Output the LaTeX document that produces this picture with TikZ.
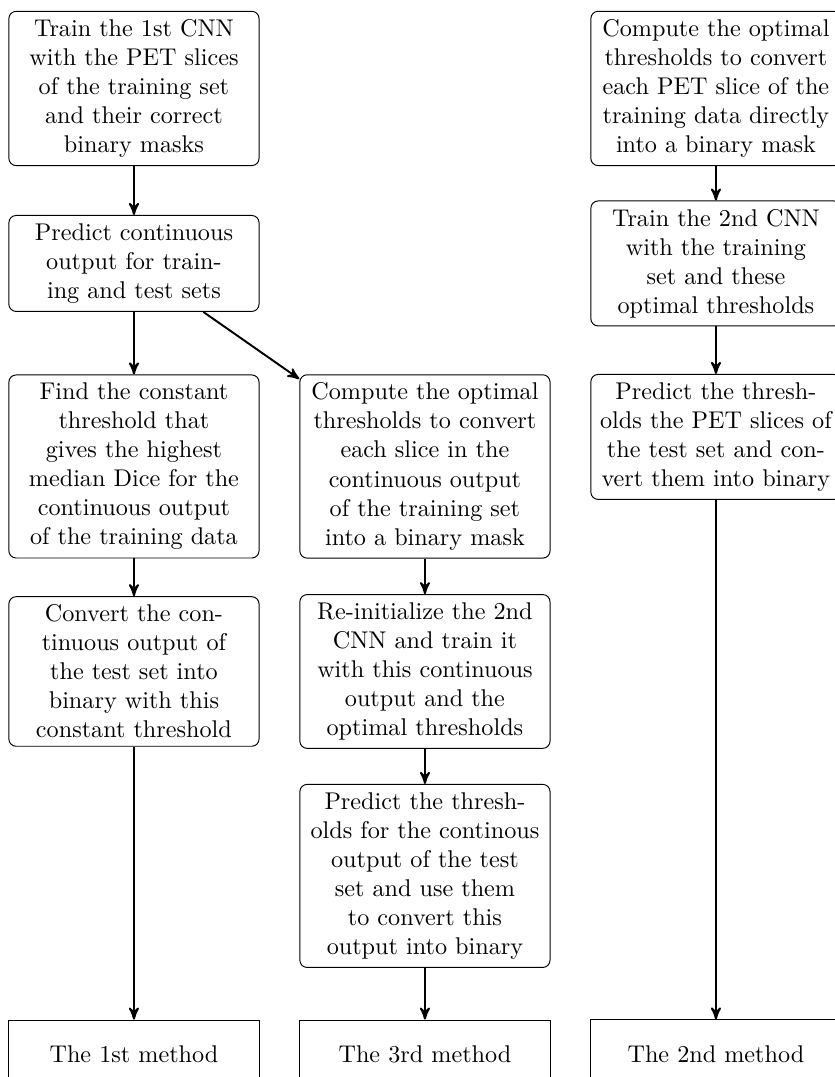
\documentclass[tikz,border=0pt]{standalone}
\usepackage{amssymb,amsmath}
\usepackage{tikz}
\usetikzlibrary{arrows}
\usetikzlibrary{positioning}
\tikzset{
    stage/.style={
           rectangle,
           rounded corners=3pt,
           draw=black,
           text width=3.4cm,
           text centered,
           },
    method/.style={
           rectangle,
           draw=black,
           minimum height=1cm,
           text width=3.4cm,
           text centered,
           },
}

\begin{document}
\begin{tikzpicture}[->,>=stealth']

 \useasboundingbox (-1.946,1.285) rectangle (10.17,-14.36);

 % first column
 \node[stage] (TRAINFIRST) at (0,0)
 {Train the 1st CNN with the PET slices of the training set and their correct binary masks};

 \node[stage,
 node distance=2.542cm,
 below of=TRAINFIRST,
 ] (PREDICTCONT)
 {Predict continuous\\ output for train-\\ ing and test sets};

 \node[stage,
 node distance=2.949cm,
 below of=PREDICTCONT,
 ] (CONSTTHRESH)
 {Find the constant threshold that gives the highest median Dice for the continuous output of the training data};

 \node[stage,
 node distance=2.978cm,
 below of=CONSTTHRESH,
 ] (CONVERTCONST)
 {Convert the continuous output of the test set into binary with this constant threshold};

 \node[method,
 node distance=5.563cm,
 below of=CONVERTCONST,
 ] (METHODONE)
 {The 1st method};

 % middle column
 \node[stage,
 node distance=4.227cm,
 right of=CONSTTHRESH,
 ] (OPTCONT)
 {Compute the optimal thresholds to convert each slice in the continuous output of the training set into a binary mask};

 \node[stage,
 node distance=2.978cm,
 below of=OPTCONT,
 ] (RETRAIN)
 {Re-initialize the 2nd CNN and train it with this continuous output and the optimal thresholds};

 \node[stage,
 node distance=2.970cm,
 below of=RETRAIN,
 ] (PREDICTCONTTH)
 {Predict the thresholds for the continous output of the test set and use them to convert this output into binary};

 \node[method,
 node distance=2.593cm,
 below of=PREDICTCONTTH,
 ] (METHODTHREE)
 {The 3rd method};

 % right column
 \node[stage,
 node distance=8.454cm,
 right of=TRAINFIRST,
 ] (OPTPET)
 {Compute the optimal thresholds to convert each PET slice of the training data directly into a binary mask};

 \node[stage,
 node distance=2.542cm,
 below of=OPTPET,
 ] (TRAINSECOND)
 {Train the 2nd CNN with the training set and these optimal thresholds};

 \node[stage,
 node distance=2.520cm,
 below of=TRAINSECOND,
 ] (PREDICTPET)
 {Predict the thresholds the PET slices of the test set and convert them into binary};

 \node[method,
 node distance=8.969cm,
 below of=PREDICTPET,
 ] (METHODTWO)
 {The 2nd method};

 \path[thick]
   (TRAINFIRST) edge (PREDICTCONT)
   (PREDICTCONT) edge (CONSTTHRESH)
   (PREDICTCONT) edge (OPTCONT)
   (CONSTTHRESH) edge (CONVERTCONST)
   (CONVERTCONST) edge (METHODONE)
   (OPTCONT) edge (RETRAIN)
   (RETRAIN) edge (PREDICTCONTTH)
   (PREDICTCONTTH) edge (METHODTHREE)
   (OPTPET) edge (TRAINSECOND)
   (TRAINSECOND) edge (PREDICTPET)
   (PREDICTPET) edge (METHODTWO)
 ;
\end{tikzpicture}
\end{document}
